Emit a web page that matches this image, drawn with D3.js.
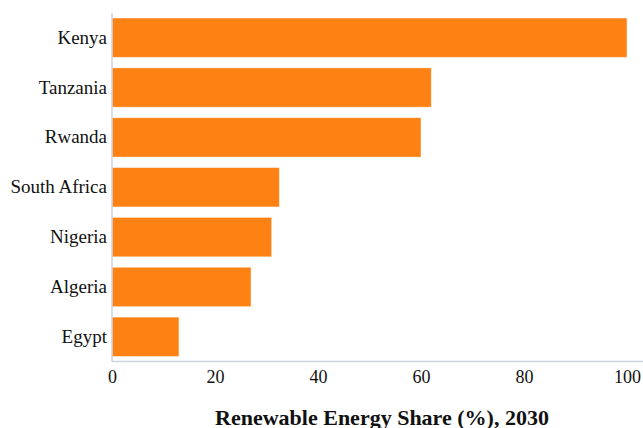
<!DOCTYPE html>
<html>
<head>
<meta charset="utf-8">
<script src="https://cdn.jsdelivr.net/npm/d3@7"></script>
<style>
  html, body { margin: 0; padding: 0; background: #fff; }
  svg { display: block; }
</style>
</head>
<body>
<svg id="chart" width="643" height="428"></svg>
<script>
// Renewable energy share by country, 2030 (%)
const countries = ["Kenya", "Tanzania", "Rwanda", "South Africa", "Nigeria", "Algeria", "Egypt"];
const shares = [100, 62, 60, 32.5, 31, 27, 13];
const xTicks = [0, 20, 40, 60, 80, 100];
const xTitle = "Renewable Energy Share (%), 2030";

const W = 643, H = 428;
const margin = { top: 13, right: 16, bottom: 66.5, left: 112 };
const serif = "'Liberation Serif', 'Times New Roman', serif";

const svg = d3.select("#chart");

const x = d3.scaleLinear()
  .domain([0, 100])
  .range([margin.left, W - margin.right]);

const y = d3.scaleBand()
  .domain(countries)
  .range([margin.top, H - margin.bottom])
  .paddingInner(0.21)
  .paddingOuter(0.1);

const rows = countries.map((c, i) => ({ country: c, value: shares[i] }));

// bars
svg.append("g")
  .selectAll("rect")
  .data(rows)
  .join("rect")
  .attr("x", x(0))
  .attr("y", d => y(d.country))
  .attr("width", d => x(d.value) - x(0))
  .attr("height", y.bandwidth())
  .attr("fill", "#fd8113")
  .attr("stroke", "#fff")
  .attr("stroke-opacity", 0.45)
  .attr("stroke-width", 1);

// axis lines
const axisColor = "#c9d4e2";
svg.append("line")
  .attr("x1", x(0)).attr("x2", x(0))
  .attr("y1", margin.top).attr("y2", H - margin.bottom)
  .attr("stroke", axisColor).attr("stroke-width", 1.5);
svg.append("line")
  .attr("x1", x(0)).attr("x2", W)
  .attr("y1", H - margin.bottom).attr("y2", H - margin.bottom)
  .attr("stroke", axisColor).attr("stroke-width", 1.5);

// y axis labels
const yAxis = svg.append("g")
  .attr("transform", `translate(${x(0)},0)`)
  .call(d3.axisLeft(y).tickSize(0).tickPadding(5));
yAxis.select(".domain").remove();
yAxis.attr("font-family", serif).attr("font-size", 19);
yAxis.selectAll("text").attr("fill", "#111");

// x axis labels
const xAxis = svg.append("g")
  .attr("transform", `translate(0,${H - margin.bottom})`)
  .call(d3.axisBottom(x).tickValues(xTicks).tickSize(0).tickPadding(9).tickFormat(d3.format("d")));
xAxis.select(".domain").remove();
xAxis.attr("font-family", serif).attr("font-size", 18);
xAxis.selectAll("text").attr("fill", "#111");

// x axis title
svg.append("text")
  .attr("x", 382)
  .attr("y", 425)
  .attr("text-anchor", "middle")
  .attr("font-family", serif)
  .attr("font-weight", "bold")
  .attr("font-size", 22)
  .attr("fill", "#111")
  .text(xTitle);
</script>
</body>
</html>
